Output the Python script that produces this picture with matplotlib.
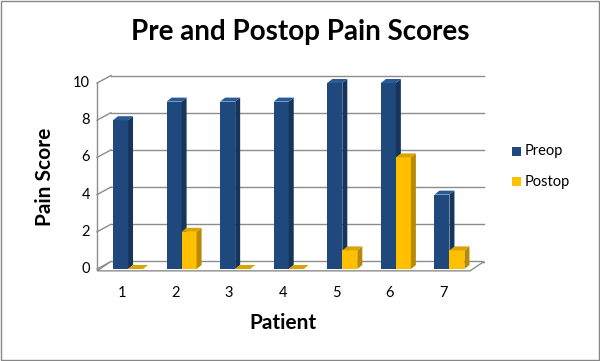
import matplotlib
matplotlib.use("Agg")
from matplotlib import pyplot as plt
from matplotlib.patches import Polygon, Rectangle

plt.rcParams['font.family'] = ['Lato', 'DejaVu Sans']

# data
patients = [1, 2, 3, 4, 5, 6, 7]
preop = [8, 9, 9, 9, 10, 10, 4]
postop = [0, 2, 0, 0, 1, 6, 1]
series = ["Preop", "Postop"]

# colours (front, side, top)
blue = ("#1F497D", "#16355C", "#2A5A94")
gold = ("#FFC000", "#B88A00", "#D9A300")
grid_c = "#8C8C8C"

fig = plt.figure(figsize=(6, 3.61), dpi=100)
ax = fig.add_axes([97 / 600, (361 - 269) / 361, 375 / 600, 186 / 361])
x0, x1 = 0.533, 7.533
ax.set_xlim(x0, x1)
ax.set_ylim(0, 10)
ax.axis("off")

# pixel -> data units
ux = (x1 - x0) / 375
uy = 10 / 186

# walls: back offset
wdx, wdy = 14 * ux, 7.5 * uy
for v in range(0, 11, 2):
    ax.plot([x0 + wdx, x1 + wdx - 2 * ux], [v + wdy, v + wdy], color=grid_c, lw=1, zorder=1, clip_on=False)
    ax.plot([x0, x0 + wdx], [v, v + wdy], color=grid_c, lw=1, zorder=1, clip_on=False)
ax.plot([x0, x0], [0, 10], color=grid_c, lw=1, zorder=1, clip_on=False)
# floor
floor = Polygon([(x0, -0.1), (x1 - 2 * ux, -0.1), (x1 + wdx - 2 * ux, wdy), (x0 + wdx, wdy)],
                closed=True, facecolor="white", edgecolor=grid_c, lw=1, zorder=1.5, clip_on=False)
ax.add_patch(floor)

# bars
bw = 15 * ux
bdx, bdy = 5 * ux, 4 * uy
offsets = [-9 * ux, 6 * ux]
for k, (vals, cols) in enumerate([(preop, blue), (postop, gold)]):
    xs = [p + offsets[k] for p in patients]
    bars = ax.bar(xs, vals, width=bw, align="edge", color=cols[0], zorder=3 + k * 0.1, label=series[k])
    for b in bars:
        b.set_clip_on(False)
    for xl, v in zip(xs, vals):
        xr = xl + bw
        side = Polygon([(xr, 0), (xr + bdx, bdy), (xr + bdx, v + bdy), (xr, v)],
                       closed=True, facecolor=cols[1], edgecolor="none", zorder=3 + k * 0.1, clip_on=False)
        top = Polygon([(xl, v), (xr, v), (xr + bdx, v + bdy), (xl + bdx, v + bdy)],
                      closed=True, facecolor=cols[2], edgecolor="none", zorder=3 + k * 0.1, clip_on=False)
        ax.add_patch(side)
        ax.add_patch(top)

# tick labels
for p in patients:
    ax.text(p, -24 * uy, str(p), ha="center", va="center", fontsize=10.5, color="#000000")
for v in range(0, 11, 2):
    ax.text(x0 - 7 * ux, v, str(v), ha="right", va="center", fontsize=10.5, color="#000000")

fig.text(0.5, 1 - 32 / 361, "Pre and Postop Pain Scores", ha="center", va="center",
         fontsize=20, fontweight="bold")
fig.text(283 / 600, 1 - 323 / 361, "Patient", ha="center", va="center",
         fontsize=15, fontweight="bold")
fig.text(45 / 600, 1 - 177 / 361, "Pain Score", ha="center", va="center",
         fontsize=15, fontweight="bold", rotation=90)

# legend
for name, col, yy in [("Preop", blue[0], 151), ("Postop", gold[0], 182)]:
    fig.patches.append(Rectangle((512 / 600, 1 - (yy + 4.5) / 361), 9 / 600, 9 / 361,
                                 transform=fig.transFigure, facecolor=col, edgecolor="none"))
    fig.text(525 / 600, 1 - yy / 361, name, ha="left", va="center", fontsize=10.5)

fig.patches.append(Rectangle((0.001, 0.0015), 0.997, 0.996, transform=fig.transFigure,
                             fill=False, edgecolor="#868686", lw=1))

plt.savefig("out.png", dpi=100)
